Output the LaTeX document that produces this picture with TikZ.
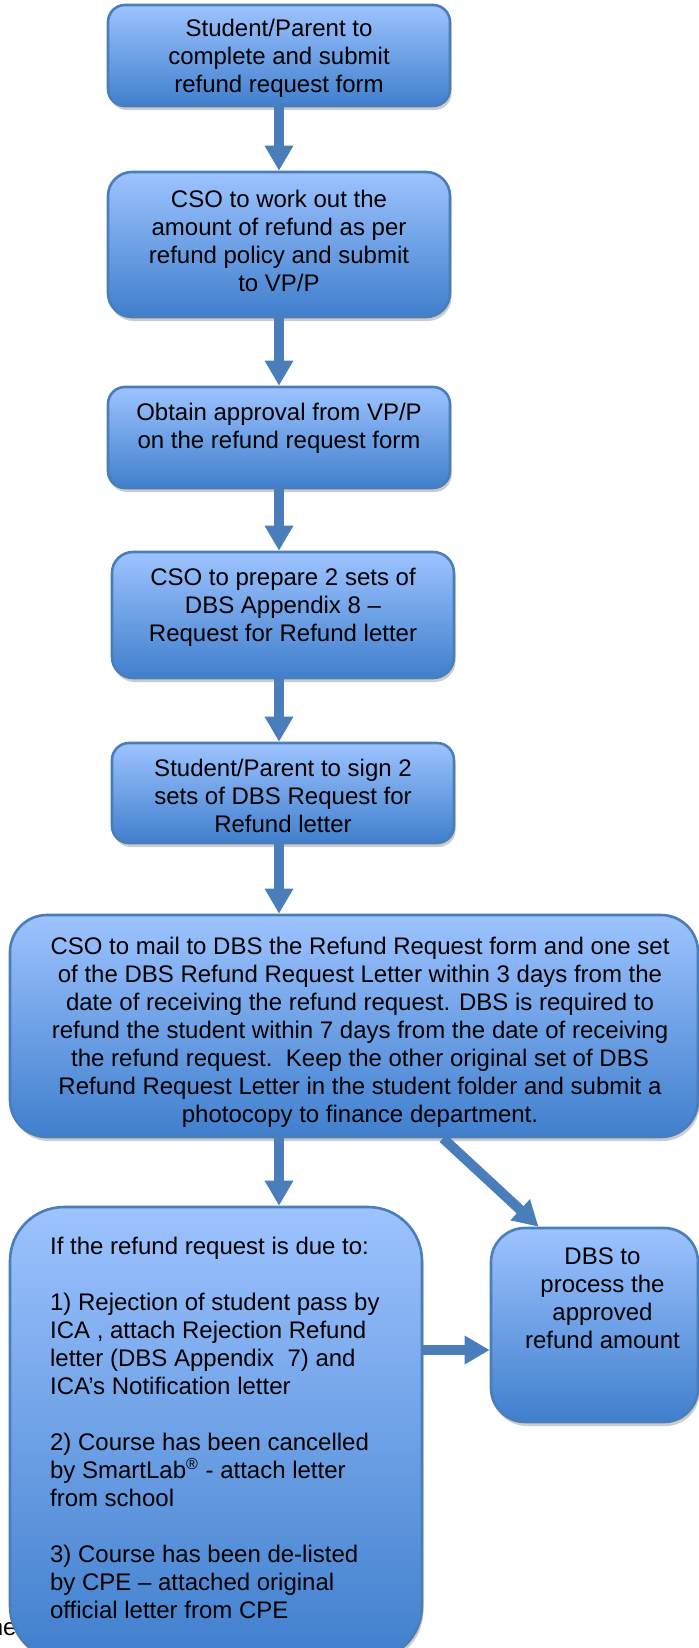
\documentclass[tikz,border=0pt]{standalone}
\usepackage{fontspec}
\setmainfont{Liberation Sans}
\usetikzlibrary{arrows.meta,shadows}
\definecolor{FlowTop}{RGB}{157,195,255}
\definecolor{FlowBottom}{RGB}{64,127,205}
\definecolor{FlowLine}{RGB}{74,126,187}
\begin{document}
\begin{tikzpicture}[x=0.5pt,y=-0.5pt,
  stepbox/.style n args={3}{draw=FlowLine,line width=1.3pt,top color=FlowTop,bottom color=FlowBottom,rounded corners=#3,minimum width=#1,minimum height=#2,inner sep=0pt,drop shadow={shadow xshift=0.8pt,shadow yshift=-2pt,fill=black!20,opacity=1}},
  steptext/.style={inner sep=0pt,anchor=north,align=center,font=\fontsize{12pt}{14pt}\selectfont},
  flowarrow/.style={draw=FlowLine,line width=5pt,-{Triangle[length=12.5pt,width=13.5pt]}}]
\useasboundingbox (0,0) rectangle (699,1648);
\clip (0,0) rectangle (699,1648);
\node[stepbox={171pt}{50.5pt}{8.5pt}] (form) at (279,55.5) {};
\node[stepbox={171pt}{72.5pt}{12pt}] (calc) at (279,244.5) {};
\node[stepbox={171pt}{50.5pt}{8.5pt}] (approve) at (279,437.5) {};
\node[stepbox={171pt}{63pt}{10.5pt}] (prep) at (283,615) {};
\node[stepbox={171pt}{50pt}{8.5pt}] (sign) at (283,793) {};
\node[stepbox={344pt}{111pt}{18.5pt}] (mail) at (354,1026) {};
\node[steptext,anchor=base east] (stray) at (17,1635) {he};
\node[stepbox={206pt}{226.5pt}{27pt}] (cases) at (216,1433.5) {};
\node[stepbox={103.5pt}{97pt}{17pt}] (dbs) at (594.5,1325) {};
\node[steptext] (form-txt) at ([yshift=-7.3pt]form.north)
   {Student/Parent to\\complete and submit\\refund request form};
\node[steptext] (calc-txt) at ([yshift=-9.3pt]calc.north)
   {CSO to work out the\\amount of refund as per\\refund policy and submit\\to VP/P};
\node[steptext] (approve-txt) at ([yshift=-8.3pt]approve.north)
   {Obtain approval from VP/P\\on the refund request form};
\node[steptext] (prep-txt) at ([yshift=-8.3pt]prep.north)
   {CSO to prepare 2 sets of\\DBS Appendix 8 –\\Request for Refund letter};
\node[steptext] (sign-txt) at ([yshift=-8.3pt]sign.north)
   {Student/Parent to sign 2\\sets of DBS Request for\\Refund letter};
\node[steptext] (mail-txt) at ([xshift=3pt,yshift=-11.3pt]mail.north)
   {CSO to mail to DBS the Refund Request form and one set\\
    of the DBS Refund Request Letter within 3 days from the\\
    date of receiving the refund request. DBS is required to\\
    refund the student within 7 days from the date of receiving\\
    the refund request.\ \ Keep the other original set of DBS\\
    Refund Request Letter in the student folder and submit a\\
    photocopy to finance department.};
\node[steptext,anchor=north west,align=left] (cases-txt) at ([xshift=20.5pt,yshift=-15.3pt]cases.north west)
   {If the refund request is due to:\\[14pt]
    1) Rejection of student pass by\\
    ICA , attach Rejection Refund\\
    letter (DBS Appendix\ \ 7) and\\
    ICA’s Notification letter\\[14pt]
    2) Course has been cancelled\\
    by SmartLab\textsuperscript{®} - attach letter\\
    from school\\[14pt]
    3) Course has been de-listed\\
    by CPE – attached original\\
    official letter from CPE};
\node[steptext] (dbs-txt) at ([xshift=4pt,yshift=-10.3pt]dbs.north)
   {DBS to\\process the\\approved\\refund amount};
\foreach \a/\b in {form/calc,calc/approve,approve/prep,prep/sign,sign/mail,mail/cases}
   \draw[flowarrow] (\a.south -| form.south) -- (form.south |- \b.north);
\draw[flowarrow] ([xshift=44.5pt]mail.south) -- ([xshift=-28pt]dbs.north);
\coordinate (dbs-in) at ([yshift=-12.5pt]dbs.west);
\draw[flowarrow] (cases.east |- dbs-in) -- (dbs-in);
\end{tikzpicture}
\end{document}
